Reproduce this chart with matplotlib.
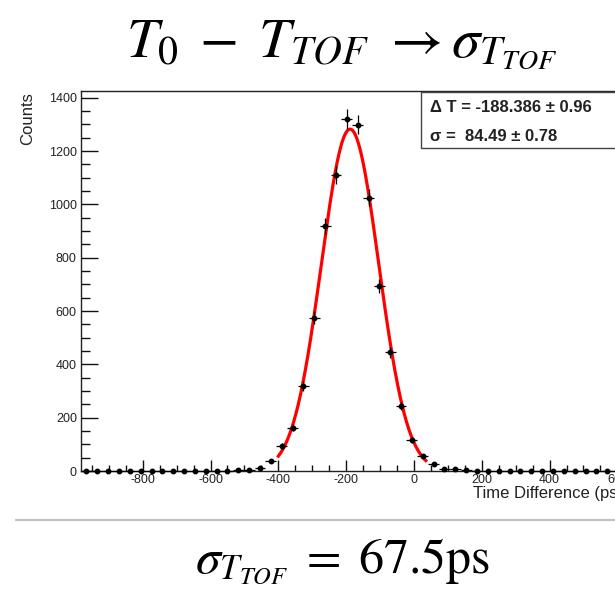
import numpy as np
import matplotlib
matplotlib.use("Agg")
import matplotlib.pyplot as plt
from matplotlib.lines import Line2D
from matplotlib.patches import Rectangle
from matplotlib.ticker import MultipleLocator

plt.rcParams["font.family"] = ["Liberation Sans", "DejaVu Sans"]
plt.rcParams["mathtext.fontset"] = "stix"
plt.rcParams["axes.unicode_minus"] = False

# Histogram of T0 - T_TOF (32 ps bins)
bin_centers = [-966, -934, -902, -870, -838, -806, -774, -742, -710, -678,
               -646, -614, -582, -550, -518, -486, -454, -422, -390, -358,
               -326, -294, -262, -230, -198, -166, -134, -102, -70, -38,
               -6, 26, 58, 90, 122, 154, 186, 218, 250, 282,
               314, 346, 378, 410, 442, 474, 506, 538, 570, 602]
counts = [0, 0, 0, 0, 0, 0, 0, 0, 0, 0,
          0, 0, 0, 1, 4, 2, 12, 39, 94, 162,
          319, 575, 920, 1111, 1320, 1298, 1025, 692, 445, 244,
          116, 56, 25, 8, 7, 3, 1, 0, 0, 0,
          0, 0, 0, 0, 0, 0, 0, 0, 0, 0]
bin_width = 32
x_range = (-982, 618)

# Gaussian fit result
fit_mean, fit_mean_err = -188.386, 0.96
fit_sigma, fit_sigma_err = 84.49, 0.78
fit_amp = 1282
fit_range = (-400, 35)

W, H = 615, 589
fig = plt.figure(figsize=(W / 100, H / 100), dpi=100)

ax_l, ax_r, ax_t, ax_b = 81, 623.5, 91, 471
ax = fig.add_axes([ax_l / W, 1 - ax_b / H, (ax_r - ax_l) / W, (ax_b - ax_t) / H])

xc = np.array(bin_centers, dtype=float)
yc = np.array(counts, dtype=float)
ax.errorbar(xc, yc, xerr=bin_width / 2, yerr=np.sqrt(yc), fmt="o", color="black",
            ms=3.2, elinewidth=0.9, capsize=0, zorder=3, clip_on=False)

xf = np.linspace(fit_range[0], fit_range[1], 400)
yf = fit_amp * np.exp(-0.5 * ((xf - fit_mean) / fit_sigma) ** 2)
ax.plot(xf, yf, color="#ff0000", lw=2.3, zorder=2)

ax.set_xlim(*x_range)
ax.set_ylim(0, 1425)
ax.xaxis.set_major_locator(MultipleLocator(200))
ax.xaxis.set_minor_locator(MultipleLocator(50))
ax.yaxis.set_major_locator(MultipleLocator(200))
ax.yaxis.set_minor_locator(MultipleLocator(50))
ax.tick_params(axis="both", which="both", direction="in", colors="#111111",
               labelcolor="#222222", labelsize=9, width=1.0)
ax.tick_params(axis="y", which="major", length=12, pad=3)
ax.tick_params(axis="y", which="minor", length=6.5)
ax.tick_params(axis="x", which="major", length=8, pad=2)
ax.tick_params(axis="x", which="minor", length=4.3)
ax.tick_params(top=False, right=False, which="both")
for side in ["left", "bottom", "top", "right"]:
    ax.spines[side].set_linewidth(1.0)
    ax.spines[side].set_color("#222222")

fig.text(28 / W, 1 - 92 / H, "Counts", rotation=90, ha="center", va="top",
         fontsize=12, color="#222222")
ax.text(1.0, -0.058, "Time Difference (ps)", transform=ax.transAxes,
        ha="right", va="center", fontsize=12, color="#222222")

# Fit statistics box
box = Rectangle((420.7 / W, 1 - 148.3 / H), (720 - 420.7) / W, (148.3 - 91.7) / H,
                transform=fig.transFigure, facecolor="white", edgecolor="#444444",
                lw=1.0, zorder=5)
fig.add_artist(box)
fig.text(430 / W, 1 - 111.7 / H,
         f"\u0394 T = {fit_mean:.3f} \u00b1 {fit_mean_err:.2f}",
         ha="left", va="baseline", fontsize=12, fontweight="bold", color="#222222",
         zorder=6)
fig.text(430 / W, 1 - 141 / H,
         f"\u03c3 =  {fit_sigma:.2f} \u00b1 {fit_sigma_err:.2f}",
         ha="left", va="baseline", fontsize=12, fontweight="bold", color="#222222",
         zorder=6)

# Headline and result
fig.text(341.5 / W, 1 - 57 / H, r"$T_0\; - \;T_{TOF}\ \rightarrow \sigma_{T_{TOF}}$",
         ha="center", va="baseline", fontsize=41, color="black")
fig.add_artist(Line2D([16 / W, 1.0], [1 - 520 / H, 1 - 520 / H],
                      transform=fig.transFigure, color="#c4c4c4", lw=1.6))
fig.text(342.5 / W, 1 - 573 / H, r"$\sigma_{T_{TOF}} \;=\; 67.5\mathrm{ps}$",
         ha="center", va="baseline", fontsize=36, color="black")

fig.savefig("out.png", dpi=100)
